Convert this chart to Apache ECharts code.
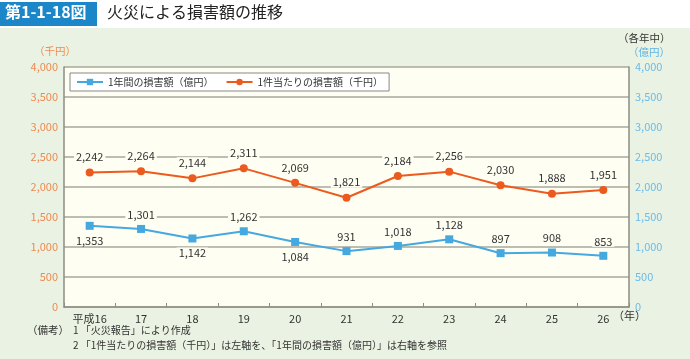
<!DOCTYPE html>
<html><head><meta charset="utf-8">
<script src="https://cdn.jsdelivr.net/npm/echarts@6/dist/echarts.min.js"></script>
<style>html,body{margin:0;padding:0;background:#fff;}#c{width:690px;height:359px;}</style>
</head><body><div id="c"></div>
<script>
const categories = ['平成16','17','18','19','20','21','22','23','24','25','26'];
const annualLoss = [1353,1301,1142,1262,1084,931,1018,1128,897,908,853];   // 億円 (right axis)
const perFireLoss = [2242,2264,2144,2311,2069,1821,2184,2256,2030,1888,1951]; // 千円 (left axis)
const annualLabelPos = ['bottom','top','bottom','top','bottom','top','top','top','top','top','top'];
const yTicks = [0,500,1000,1500,2000,2500,3000,3500,4000];

const FONT = '"Noto Sans CJK JP", sans-serif';
const CREAM = '#FFFEF3';
const chart = echarts.init(document.getElementById('c'));
const fmt = v => v.toLocaleString('en-US');

chart.setOption({
  backgroundColor: '#fff',
  textStyle: {fontFamily: FONT},
  animation: false,
  graphic: [
    {type:'rect', shape:{x:0,y:28,width:690,height:331}, style:{fill:'#EAF3E3'}, z:-10},
    {type:'rect', shape:{x:0,y:2,width:97,height:24}, style:{fill:'#1C87C8'}},
    {type:'text', left:5, top:4, style:{text:'第1-1-18図', fill:'#fff', font:'bold 16px '+FONT}},
    {type:'text', left:107, top:4, style:{text:'火災による損害額の推移', fill:'#222', font:'16px '+FONT}},
    {type:'text', left:34, top:46, style:{text:'（千円）', fill:'#EF8A50', font:'10.5px '+FONT}},
    {type:'text', left:618, top:33, style:{text:'（各年中）', fill:'#333', font:'10.5px '+FONT}},
    {type:'text', left:628, top:47, style:{text:'（億円）', fill:'#5FB3E3', font:'10.5px '+FONT}},
    {type:'text', left:613, top:310, style:{text:'（年）', fill:'#333', font:'11px '+FONT}},
    {type:'text', left:27, top:325, style:{text:'（備考）', fill:'#333', font:'10.5px '+FONT}},
    {type:'text', left:73, top:325, style:{text:'1 「火災報告」により作成', fill:'#333', font:'10px '+FONT}},
    {type:'text', left:73, top:340, style:{text:'2 「1件当たりの損害額（千円）」は左軸を、「1年間の損害額（億円）」は右軸を参照', fill:'#333', font:'10px '+FONT}}
  ],
  legend: {
    left: 70, top: 73, itemGap: 12, itemWidth: 26, itemHeight: 8,
    backgroundColor: '#fff', borderColor: '#888', borderWidth: 1, padding: [4,6,4,6],
    textStyle: {fontSize: 10, color: '#333', fontFamily: FONT},
    data: ['1年間の損害額（億円）','1件当たりの損害額（千円）']
  },
  grid: {left: 64, right: 61, top: 67, bottom: 52, show: true, backgroundColor: CREAM, borderWidth: 0},
  xAxis: {
    type: 'category', data: categories, boundaryGap: true,
    axisLine: {lineStyle: {color: '#8E8D83', width: 1.5}},
    axisTick: {show: true, length: 4, inside: true, lineStyle: {color: '#8E8D83'}},
    axisLabel: {color: '#333', fontSize: 11, margin: 6}
  },
  yAxis: [
    {type: 'value', min: 0, max: 4000, interval: 500, position: 'left',
     axisLine: {show: true, lineStyle: {color: '#8E8D83', width: 1.5}},
     axisTick: {show: false},
     axisLabel: {color: '#EF8A50', fontSize: 11, margin: 6, formatter: v => fmt(v)},
     splitLine: {lineStyle: {color: '#A8A79C', width: 1.5}}},
    {type: 'value', min: 0, max: 4000, interval: 500, position: 'right',
     axisLine: {show: true, lineStyle: {color: '#8E8D83', width: 1.5}},
     axisTick: {show: false},
     axisLabel: {color: '#6DBAE6', fontSize: 11, margin: 6, formatter: v => fmt(v)},
     splitLine: {show: false}}
  ],
  series: [
    {name: '1年間の損害額（億円）', type: 'line', yAxisIndex: 1,
     data: annualLoss.map((v,i)=>({value:v, label:{position: annualLabelPos[i]}})),
     symbol: 'rect', symbolSize: 8, color: '#45A8DF', lineStyle: {width: 2, color: '#45A8DF'},
     label: {show: true, color: '#333', fontSize: 11, distance: 5, backgroundColor: CREAM, padding: [0,2],
             formatter: p => fmt(p.value)}},
    {name: '1件当たりの損害額（千円）', type: 'line', yAxisIndex: 0,
     data: perFireLoss,
     symbol: 'circle', symbolSize: 8, color: '#EC5A1E', lineStyle: {width: 2, color: '#EC5A1E'},
     label: {show: true, position: 'top', color: '#333', fontSize: 11, distance: 6, backgroundColor: CREAM, padding: [0,2],
             formatter: p => fmt(p.value)}}
  ]
});
</script></body></html>
